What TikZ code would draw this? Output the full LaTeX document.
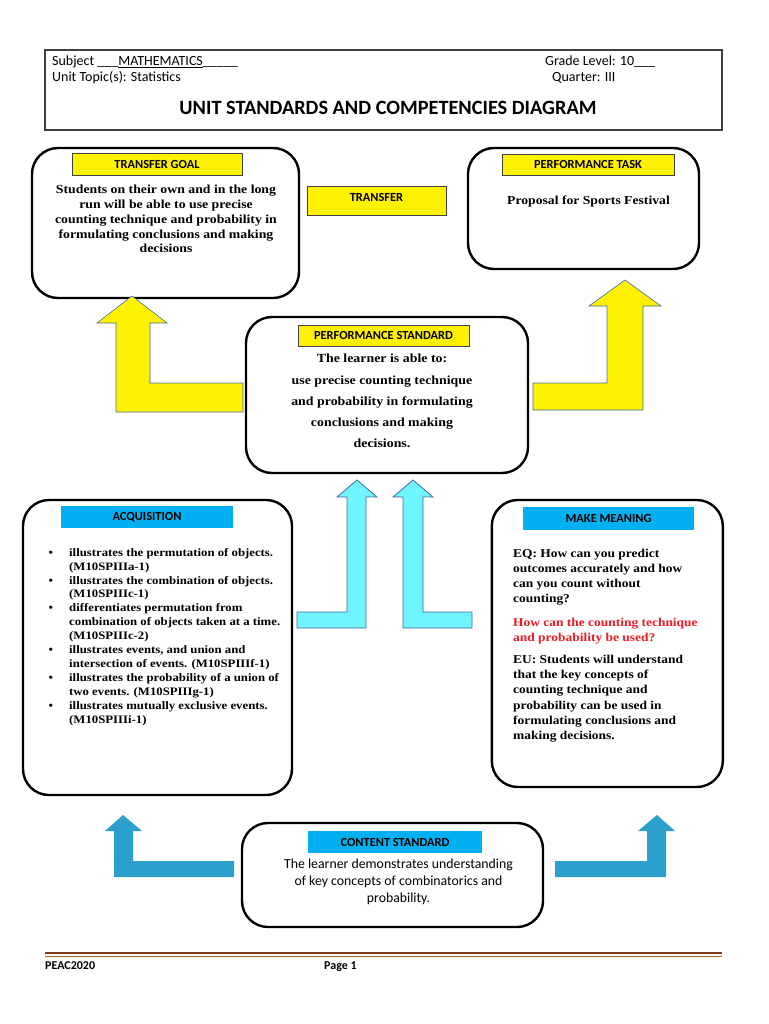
\documentclass[tikz,border=0pt]{standalone}
\usepackage{fontspec}
\setmainfont{Liberation Serif}
\setsansfont{Carlito}
\newfontfamily\cambria{Liberation Serif}[FakeStretch=1.12]
\usepackage{xcolor}
\usetikzlibrary{positioning}

\definecolor{tagblue}{RGB}{0,176,240}
\definecolor{liftcyan}{RGB}{110,245,255}
\definecolor{liftsteel}{RGB}{43,160,204}
\definecolor{liftedge}{RGB}{70,105,165}
\definecolor{askred}{RGB}{235,28,36}
\definecolor{footbrown}{RGB}{125,58,22}
\definecolor{footbrownlight}{RGB}{165,95,50}

\begin{document}
\begin{tikzpicture}[
  x=1pt, y=-1pt,
  bigbox/.style={draw, line width=2.4pt, rounded corners=26pt, outer sep=0pt},
  ytag/.style={draw=black!75, line width=0.7pt, fill=yellow, inner sep=0pt, outer sep=0pt,
    font=\sffamily\bfseries\fontsize{12.4}{14}\selectfont},
  btag/.style={fill=tagblue, inner sep=0pt, outer sep=0pt,
    font=\sffamily\bfseries\fontsize{12.4}{14}\selectfont},
  headfont/.style={font=\sffamily\fontsize{14}{16}\selectfont, inner sep=0pt},
  goalfont/.style={font=\cambria\bfseries\fontsize{12.3}{14.8}\selectfont, align=center, inner sep=0pt},
  stdfont/.style={font=\cambria\bfseries\fontsize{12.4}{21.2}\selectfont, align=center, inner sep=0pt},
  listfont/.style={font=\cambria\bfseries\fontsize{11.4}{13.9}\selectfont, align=left, inner sep=0pt},
  meanfont/.style={font=\cambria\bfseries\fontsize{12}{15.2}\selectfont, align=left, inner sep=0pt},
  contentfont/.style={font=\sffamily\fontsize{13.8}{17}\selectfont, align=center, inner sep=0pt},
  footfont/.style={font=\sffamily\bfseries\fontsize{12}{14}\selectfont, anchor=base west, inner sep=0pt},
  yarrow/.style={fill=yellow, draw=liftedge, line width=0.6pt},
  carrow/.style={fill=liftcyan, draw=liftedge, line width=0.8pt},
  sarrow/.style={fill=liftsteel}
]
\fill[white] (0,0) rectangle (768,1024);
\useasboundingbox (0,0) rectangle (768,1024);

% Header
\draw[black!75, line width=1.3pt] (45,50) rectangle (722,130);
\node[headfont, anchor=west] (subject) at (52,62) {Subject \_\_\_\underline{MATHEMATICS}\_\_\_\_\_};
\node[headfont, anchor=west] (topic) at (52,78) {Unit Topic(s): Statistics};
\node[headfont, anchor=west] (grade) at (545,62) {Grade Level: 10\_\_\_};
\node[headfont, anchor=west] (quarter) at (552,78) {Quarter: III};
\node[font=\sffamily\bfseries\fontsize{20.3}{22}\selectfont] (title) at (388,108) {UNIT STANDARDS AND COMPETENCIES DIAGRAM};

% Transfer goal
\node[bigbox, minimum width=267pt, minimum height=150pt] (goalbox) at (165.5,223) {};
\node[ytag, minimum width=170pt, minimum height=22pt, below=5pt of goalbox.north, xshift=-8.5pt] (goaltag) {TRANSFER GOAL};
\node[goalfont] (goaltext) at (166,219) {Students on their own and in the long\\
run will be able to use precise\\
counting technique and probability in\\
formulating conclusions and making\\
decisions};

\node[ytag, minimum width=139pt, minimum height=28.5pt, text depth=8pt] (transfer) at (376.5,201) {TRANSFER};

% Performance task
\node[bigbox, minimum width=231pt, minimum height=121pt] (taskbox) at (583.5,208.5) {};
\node[ytag, minimum width=172pt, minimum height=21pt, below=6pt of taskbox.north, xshift=4.5pt] (tasktag) {PERFORMANCE TASK};
\node[font=\cambria\bfseries\fontsize{12.2}{14}\selectfont, inner sep=0pt] (tasktext) at (588.5,202) {Proposal for Sports Festival};

% Performance standard
\node[bigbox, minimum width=282pt, minimum height=156pt] (stdbox) at (387,395) {};
\node[ytag, minimum width=171pt, minimum height=21pt, below=8pt of stdbox.north, xshift=-3.5pt] (stdtag) {PERFORMANCE STANDARD};
\node[stdfont] (stdtext) at (382,401) {The learner is able to:\\
use precise counting technique\\
and probability in formulating\\
conclusions and making\\
decisions.};

% Acquisition
\node[bigbox, minimum width=269pt, minimum height=295pt] (acqbox) at (157.5,647.5) {};
\node[btag, minimum width=172pt, minimum height=22pt, below=6pt of acqbox.north, xshift=-10.5pt] (acqtag) {ACQUISITION};
\node[listfont, anchor=north west] (acqtext) at (69,548) {%
\llap{\textbullet\hspace{16pt}}illustrates the permutation of objects.\\
(M10SPIIIa-1)\\
\llap{\textbullet\hspace{16pt}}illustrates the combination of objects.\\
(M10SPIIIc-1)\\
\llap{\textbullet\hspace{16pt}}differentiates permutation from\\
combination of\ objects taken\ at a time.\\
(M10SPIIIc-2)\\
\llap{\textbullet\hspace{16pt}}illustrates events, and union and\\
intersection of events. (M10SPIIIf-1)\\
\llap{\textbullet\hspace{16pt}}illustrates the probability of a union of\\
two events. (M10SPIIIg-1)\\
\llap{\textbullet\hspace{16pt}}illustrates mutually exclusive events.\\
(M10SPIIIi-1)};

% Make meaning
\node[bigbox, minimum width=231pt, minimum height=287pt] (meanbox) at (607.3,643.5) {};
\node[btag, minimum width=171pt, minimum height=23pt, below=7pt of meanbox.north, xshift=1.2pt] (meantag) {MAKE MEANING};
\node[meanfont, anchor=north west] (eqtext) at (513,548.5) {EQ: How can you predict\\
outcomes accurately and how\\
can you count without\\
counting?};
\node[meanfont, text=askred, below=12pt of eqtext.south west, anchor=north west] (asktext) {How can the counting technique\\
and probability be used?};
\node[meanfont, below=11pt of asktext.south west, anchor=north west] (eutext) {EU: Students will understand\\
that the key concepts of\\
counting technique and\\
probability can be used in\\
formulating conclusions and\\
making decisions.};

% Content standard
\node[bigbox, minimum width=301pt, minimum height=104pt] (contentbox) at (392.5,875) {};
\node[btag, minimum width=174pt, minimum height=22pt, below=8pt of contentbox.north, xshift=2.5pt] (contenttag) {CONTENT STANDARD};
\node[contentfont] (contenttext) at (398.5,881.5) {The learner demonstrates understanding\\
of key concepts of combinatorics and\\
probability.};

% Block arrows
\filldraw[yarrow] (132,296) -- (167,323) -- (150,323) -- (150,383) -- (243,383) -- (243,412) -- (116,412) -- (116,323) -- (97,323) -- cycle;
\filldraw[yarrow] (625,280) -- (661,306) -- (643,306) -- (643,410) -- (533,410) -- (533,383) -- (607,383) -- (607,306) -- (589,306) -- cycle;
\filldraw[carrow] (357,480) -- (377,497) -- (366,497) -- (366,628) -- (297,628) -- (297,612) -- (347,612) -- (347,497) -- (337,497) -- cycle;
\filldraw[carrow] (413,480) -- (433,497) -- (423,497) -- (423,612) -- (472,612) -- (472,628) -- (403,628) -- (403,497) -- (393,497) -- cycle;
\fill[sarrow] (123,815) -- (142,831) -- (133,831) -- (133,861) -- (234,861) -- (234,877) -- (114,877) -- (114,831) -- (105,831) -- cycle;
\fill[sarrow] (657,815) -- (675,831) -- (666,831) -- (666,877) -- (555,877) -- (555,861) -- (647,861) -- (647,831) -- (638,831) -- cycle;

% Footer
\draw[footbrown, line width=2.6pt] (45,953) -- (722,953);
\draw[footbrownlight, line width=1pt] (45,956.5) -- (722,956.5);
\node[footfont] (peac) at (45,969) {PEAC2020};
\node[footfont] (page) at (324,969) {Page 1};

\end{tikzpicture}
\end{document}
